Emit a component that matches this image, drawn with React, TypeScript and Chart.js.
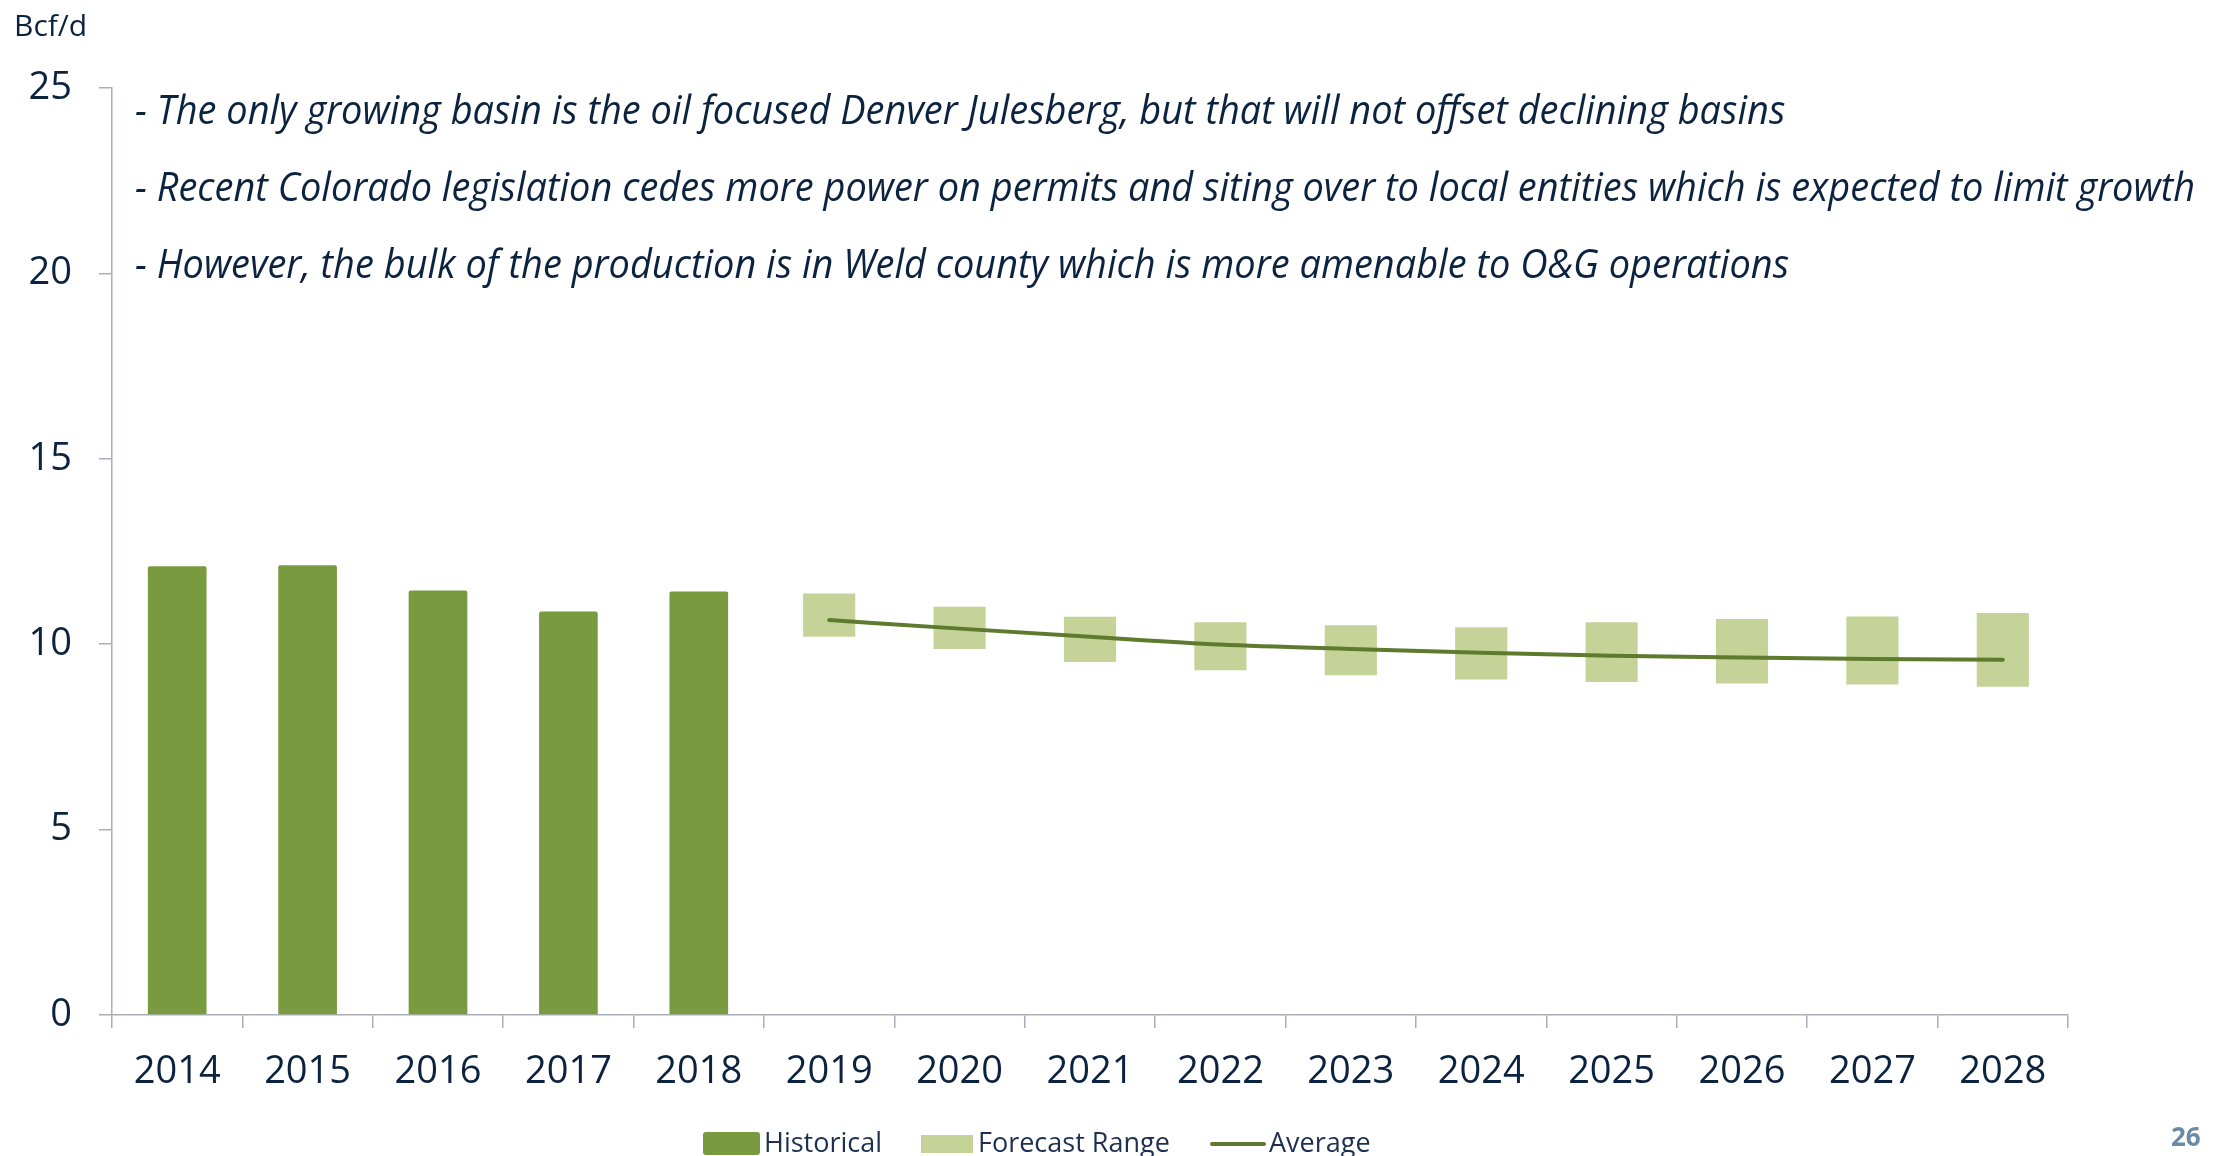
import React, { useEffect, useRef } from "react";
import { Chart, registerables } from "chart.js";

Chart.register(...registerables);

const categories = ["2014", "2015", "2016", "2017", "2018", "2019", "2020", "2021", "2022", "2023", "2024", "2025", "2026", "2027", "2028"];
const historical = [12.1, 12.13, 11.45, 10.88, 11.42];
const forecastLow = [10.2, 9.87, 9.52, 9.3, 9.16, 9.05, 8.98, 8.94, 8.91, 8.85];
const forecastHigh = [11.37, 11.01, 10.74, 10.59, 10.51, 10.46, 10.59, 10.68, 10.75, 10.84];
const average = [10.65, 10.42, 10.2, 9.99, 9.87, 9.77, 9.69, 9.64, 9.6, 9.58];
const yTickValues = [0, 5, 10, 15, 20, 25];
const notes = [
  "- The only growing basin is the oil focused Denver Julesberg, but that will not offset declining basins",
  "- Recent Colorado legislation cedes more power on permits and siting over to local entities which is expected to limit growth",
  "- However, the bulk of the production is in Weld county which is more amenable to O&G operations",
];
const unitLabel = "Bcf/d";
const pageNumber = "26";

const FONT = "'Open Sans', 'Noto Sans', sans-serif";
const NAVY = "#0c2340";
const AXIS = "#a9aebb";
const C_HIST = "#7a9a3f";
const C_FORE = "#c5d398";
const C_AVG = "#5d7a2d";

const nHist = historical.length;
const nFore = forecastLow.length;
const histData = [...historical, ...Array(nFore).fill(null)];
const foreData = [...Array(nHist).fill(null), ...forecastLow.map((lo, i) => [lo, forecastHigh[i]])];
const avgData = [...Array(nHist).fill(null), ...average];

const overlayPlugin = {
  id: "overlay",
  afterDraw(chart: any) {
    const ctx = chart.ctx as CanvasRenderingContext2D;
    ctx.save();
    // unit label
    ctx.fillStyle = NAVY;
    ctx.textBaseline = "alphabetic";
    ctx.textAlign = "left";
    ctx.font = `30px ${FONT}`;
    ctx.fillText(unitLabel, 14, 36);

    // notes
    ctx.font = `italic 40px ${FONT}`;
    const target = 2060;
    const w = ctx.measureText(notes[1]).width;
    const sx = Math.min(1, target / w);
    const baselines = [124, 201, 278];
    notes.forEach((t, i) => {
      ctx.save();
      ctx.translate(135, baselines[i]);
      ctx.scale(sx, 1);
      ctx.fillText(t, 0, 0);
      ctx.restore();
    });

    // page number
    ctx.font = `bold 26px ${FONT}`;
    ctx.fillStyle = "#6b8aa8";
    ctx.fillText(pageNumber, 2171, 1146);

    // legend
    const ds = chart.data.datasets;
    ctx.font = `27px ${FONT}`;
    const LT = "#1d3050";
    const dy = 2;
    ctx.fillStyle = C_HIST;
    ctx.beginPath();
    (ctx as any).roundRect(703, 1130 + dy, 57, 23, 3);
    ctx.fill();
    ctx.fillStyle = LT;
    ctx.fillText(ds[1].label, 764, 1150 + dy);
    ctx.fillStyle = C_FORE;
    ctx.fillRect(921, 1133 + dy, 52, 18);
    ctx.fillStyle = LT;
    ctx.fillText(ds[2].label, 978, 1150 + dy);
    ctx.strokeStyle = C_AVG;
    ctx.lineWidth = 4;
    ctx.lineCap = "round";
    ctx.beginPath();
    ctx.moveTo(1212, 1142 + dy);
    ctx.lineTo(1264, 1142 + dy);
    ctx.stroke();
    ctx.fillStyle = LT;
    ctx.fillText(ds[0].label, 1269, 1150 + dy);
    ctx.restore();
  },
};

export default function App() {
  const ref = useRef<HTMLCanvasElement>(null);
  useEffect(() => {
    if (!ref.current) return;
    const chart = new Chart(ref.current, {
      type: "bar",
      data: {
        labels: categories,
        datasets: [
          {
            type: "line",
            label: "Average",
            data: avgData as any,
            borderColor: C_AVG,
            backgroundColor: C_AVG,
            borderWidth: 4,
            pointRadius: 0,
            borderCapStyle: "round",
            cubicInterpolationMode: "monotone",
            spanGaps: false,
            order: 0,
          } as any,
          {
            type: "bar",
            label: "Historical",
            data: histData as any,
            backgroundColor: C_HIST,
            barPercentage: 0.45,
            categoryPercentage: 1,
            grouped: false,
            borderRadius: 2,
            borderSkipped: "bottom",
            order: 2,
          } as any,
          {
            type: "bar",
            label: "Forecast Range",
            data: foreData as any,
            backgroundColor: C_FORE,
            barPercentage: 0.4,
            categoryPercentage: 1,
            grouped: false,
            borderSkipped: false,
            order: 1,
          } as any,
        ],
      },
      options: {
        responsive: false,
        animation: false,
        events: [],
        layout: { padding: { left: 0, right: 160, top: 88, bottom: 0 } },
        plugins: { legend: { display: false }, tooltip: { enabled: false }, title: { display: false } },
        scales: {
          x: {
            offset: true,
            grid: { display: true, offset: true, drawOnChartArea: false, drawTicks: true, tickLength: 13, color: AXIS, lineWidth: 1.5 },
            border: { display: true, color: AXIS, width: 1.5 },
            ticks: { color: NAVY, font: { family: FONT, size: 38 }, padding: 21, maxRotation: 0, autoSkip: false },
            afterFit: (s: any) => { s.height = 141; },
          },
          y: {
            min: 0,
            max: 25,
            afterBuildTicks: (s: any) => { s.ticks = yTickValues.map((v) => ({ value: v })); },
            grid: { display: true, drawOnChartArea: false, drawTicks: true, tickLength: 13, color: AXIS, lineWidth: 1.5 },
            border: { display: true, color: AXIS, width: 1.5 },
            ticks: { color: NAVY, font: { family: FONT, size: 38 }, padding: 27 },
            afterFit: (s: any) => { s.width = 112; },
          },
        },
      },
      plugins: [overlayPlugin],
    });
    return () => chart.destroy();
  }, []);
  return (
    <div style={{ position: "fixed", left: 0, top: 0, width: 2228, height: 1156, background: "#fff" }}>
      <canvas ref={ref} width={2228} height={1156} style={{ display: "block" }} />
    </div>
  );
}
